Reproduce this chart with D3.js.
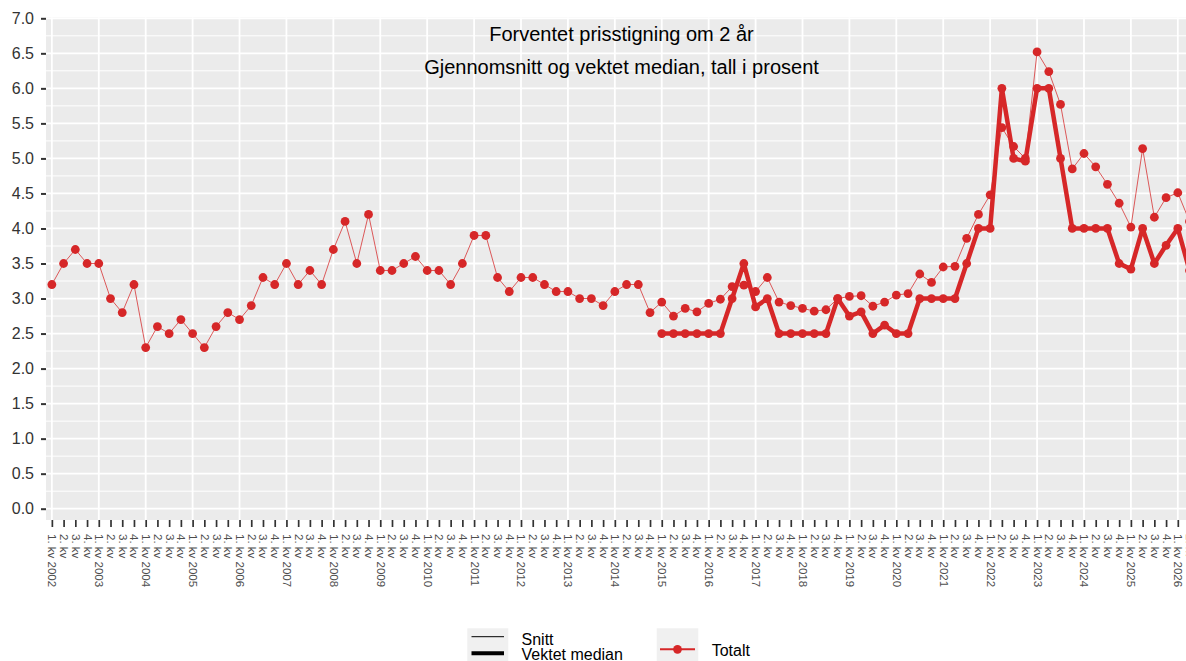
<!DOCTYPE html>
<html>
<head>
<meta charset="utf-8">
<script src="https://cdn.jsdelivr.net/npm/d3@7"></script>
<style>
body { margin: 0; background: #ffffff; overflow: hidden; }
#chart svg { display: block; font-family: "Liberation Sans", Arial, sans-serif; }
</style>
</head>
<body>
<div id="chart"></div>
<script>
// quarters from 1. kv 2002 to 2. kv 2026
var first_year = 2002;
var last_year = 2026;
var n_quarters = 98;

// Snitt (average), one value per quarter
var snitt = [
    3.2, 3.5, 3.7, 3.5,   3.5, 3.0, 2.8, 3.2,   2.3, 2.6, 2.5, 2.7,
    2.5, 2.3, 2.6, 2.8,   2.7, 2.9, 3.3, 3.2,   3.5, 3.2, 3.4, 3.2,
    3.7, 4.1, 3.5, 4.2,   3.4, 3.4, 3.5, 3.6,   3.4, 3.4, 3.2, 3.5,
    3.9, 3.9, 3.3, 3.1,   3.3, 3.3, 3.2, 3.1,   3.1, 3.0, 3.0, 2.9,
    3.1, 3.2, 3.2, 2.8,   2.95, 2.75, 2.86, 2.81, 2.93, 2.99, 3.17, 3.19,
    3.1, 3.3, 2.95, 2.9,  2.86, 2.82, 2.84, 3.0, 3.03, 3.04, 2.89, 2.95,
    3.05, 3.07, 3.35, 3.23, 3.45, 3.46, 3.86, 4.2, 4.48, 5.44, 5.17, 5.0,
    6.52, 6.24, 5.77, 4.85, 5.07, 4.88, 4.63, 4.36, 4.02, 5.14, 4.16, 4.44,
    4.51, 4.1
];

// Vektet median, starts 1. kv 2015
var median_start = 52;
var median = [
    2.5, 2.5, 2.5, 2.5,   2.5, 2.5, 3.0, 3.5,   2.88, 3.0, 2.5, 2.5,
    2.5, 2.5, 2.5, 3.0,   2.75, 2.81, 2.5, 2.62, 2.5, 2.5, 3.0, 3.0,
    3.0, 3.0, 3.5, 4.0,   4.0, 6.0, 5.0, 4.96,  6.0, 6.0, 5.0, 4.0,
    4.0, 4.0, 4.0, 3.5,   3.42, 4.0, 3.5, 3.76, 4.0, 3.4
];

var title_lines = ["Forventet prisstigning om 2 år", "Gjennomsnitt og vektet median, tall i prosent"];
var size_legend = ["Snitt", "Vektet median"];
var colour_legend = ["Totalt"];
var y_ticks = [0, 0.5, 1, 1.5, 2, 2.5, 3, 3.5, 4, 4.5, 5, 5.5, 6, 6.5, 7];

var red = "#d62728";
var panel = {left: 46, right: 1195.4, top: 17.5, bottom: 520};

function gen_chart() {
    var periods = [];
    for (var yr = first_year; yr <= last_year; yr++) {
        for (var q = 1; q <= 4; q++) periods.push({key: yr + "K" + q, year: yr, q: q});
    }
    periods = periods.slice(0, n_quarters);

    var snitt_data = snitt.map(function(v, i) { return {period: periods[i].key, value: v}; });
    var median_data = median.map(function(v, i) { return {period: periods[i + median_start].key, value: v}; });

    var svg = d3.select("#chart").append("svg")
                .attr("width", 1186)
                .attr("height", 661);

    var xscale = d3.scalePoint()
                   .domain(periods.map(function(p) { return p.key; }))
                   .range([panel.left, panel.right])
                   .padding(0.5);

    var yscale = d3.scaleLinear()
                   .domain([0, 7])
                   .range([508.7, 18.3]);

    // panel
    svg.append("rect")
       .attr("x", panel.left)
       .attr("y", panel.top)
       .attr("width", panel.right - panel.left)
       .attr("height", panel.bottom - panel.top)
       .attr("fill", "#ebebeb");

    // horizontal grid, minor then major
    svg.selectAll(".hminor")
       .data(y_ticks.slice(0, -1))
       .enter()
       .append("line")
       .attr("class", "hminor")
       .attr("x1", panel.left).attr("x2", panel.right)
       .attr("y1", function(d) { return yscale(d + 0.25); })
       .attr("y2", function(d) { return yscale(d + 0.25); })
       .style("stroke", "#ffffff")
       .style("stroke-width", 1);

    svg.selectAll(".hmajor")
       .data(y_ticks)
       .enter()
       .append("line")
       .attr("class", "hmajor")
       .attr("x1", panel.left).attr("x2", panel.right)
       .attr("y1", function(d) { return yscale(d); })
       .attr("y2", function(d) { return yscale(d); })
       .style("stroke", "#ffffff")
       .style("stroke-width", 1.8);

    // vertical grid at each year
    svg.selectAll(".vmajor")
       .data(periods.filter(function(p) { return p.q == 1; }))
       .enter()
       .append("line")
       .attr("class", "vmajor")
       .attr("x1", function(d) { return xscale(d.key); })
       .attr("x2", function(d) { return xscale(d.key); })
       .attr("y1", panel.top).attr("y2", panel.bottom)
       .style("stroke", "#ffffff")
       .style("stroke-width", 1.8);

    // title inside the panel
    svg.selectAll(".title")
       .data(title_lines)
       .enter()
       .append("text")
       .attr("class", "title")
       .attr("x", 621.5)
       .attr("y", function(d, i) { return 41 + i * 33; })
       .attr("text-anchor", "middle")
       .style("font-size", "20px")
       .style("fill", "#000000")
       .text(function(d) { return d; });

    // lines
    var line = d3.line()
                 .x(function(d) { return xscale(d.period); })
                 .y(function(d) { return yscale(d.value); });

    svg.append("path")
       .datum(snitt_data)
       .attr("d", line)
       .attr("fill", "none")
       .style("stroke", red)
       .style("stroke-opacity", 0.75)
       .style("stroke-width", 1)
       .style("stroke-linejoin", "round");

    svg.append("path")
       .datum(median_data)
       .attr("d", line)
       .attr("fill", "none")
       .style("stroke", red)
       .style("stroke-width", 4.5)
       .style("stroke-linejoin", "round");

    // points
    svg.selectAll(".point")
       .data(snitt_data.concat(median_data))
       .enter()
       .append("circle")
       .attr("class", "point")
       .attr("cx", function(d) { return xscale(d.period); })
       .attr("cy", function(d) { return yscale(d.value); })
       .attr("r", 4.4)
       .attr("fill", red);

    // y axis
    var yaxis = d3.axisLeft(yscale)
                  .tickValues(y_ticks)
                  .tickFormat(d3.format(".1f"))
                  .tickSize(5)
                  .tickPadding(7);

    var gy = svg.append("g")
                .attr("transform", "translate(" + panel.left + ",0)")
                .call(yaxis);
    gy.select(".domain").remove();
    gy.selectAll("line").style("stroke", "#333333").style("stroke-width", 2);
    gy.selectAll("text").style("font-size", "16px").style("fill", "#333333")
      .style("font-family", "'Liberation Sans', Arial, sans-serif");

    // x axis
    var xaxis = d3.axisBottom(xscale)
                  .tickSize(7)
                  .tickFormat(function(k) {
                      var p = periods.find(function(d) { return d.key == k; });
                      return p.q + ". kv" + (p.q == 1 ? " " + p.year : "");
                  });

    var gx = svg.append("g")
                .attr("transform", "translate(0," + panel.bottom + ")")
                .call(xaxis);
    gx.select(".domain").remove();
    gx.selectAll("line").style("stroke", "#333333").style("stroke-width", 1.7);
    gx.selectAll("text")
      .attr("x", 14)
      .attr("y", 0)
      .attr("dy", "0.35em")
      .attr("transform", "rotate(90)")
      .style("text-anchor", "start")
      .style("font-size", "11.5px")
      .style("fill", "#4d4d4d")
      .style("font-family", "'Liberation Sans', Arial, sans-serif");

    // legend: line size
    svg.append("rect")
       .attr("x", 467.3).attr("y", 628.3)
       .attr("width", 41).attr("height", 34)
       .attr("fill", "#f0f0f0");

    svg.selectAll(".size_key")
       .data(size_legend)
       .enter()
       .append("line")
       .attr("class", "size_key")
       .attr("x1", 471.5).attr("x2", 504)
       .attr("y1", function(d, i) { return 636.7 + i * 16.6; })
       .attr("y2", function(d, i) { return 636.7 + i * 16.6; })
       .style("stroke", "#000000")
       .style("stroke-width", function(d, i) { return i == 0 ? 1 : 4; });

    svg.selectAll(".size_label")
       .data(size_legend)
       .enter()
       .append("text")
       .attr("class", "size_label")
       .attr("x", 521.5)
       .attr("y", function(d, i) { return 644.5 + i * 15; })
       .style("font-size", "16px")
       .style("fill", "#000000")
       .text(function(d) { return d; });

    // legend: colour
    svg.append("rect")
       .attr("x", 656.7).attr("y", 628.3)
       .attr("width", 41.6).attr("height", 34)
       .attr("fill", "#f0f0f0");

    svg.append("line")
       .attr("x1", 660).attr("x2", 695)
       .attr("y1", 649.3).attr("y2", 649.3)
       .style("stroke", red)
       .style("stroke-width", 2);

    svg.append("circle")
       .attr("cx", 677.5).attr("cy", 649.3)
       .attr("r", 4.4)
       .attr("fill", red);

    svg.selectAll(".colour_label")
       .data(colour_legend)
       .enter()
       .append("text")
       .attr("class", "colour_label")
       .attr("x", 711.7)
       .attr("y", 655.5)
       .style("font-size", "16px")
       .style("fill", "#000000")
       .text(function(d) { return d; });
}

gen_chart();
</script>
</body>
</html>
